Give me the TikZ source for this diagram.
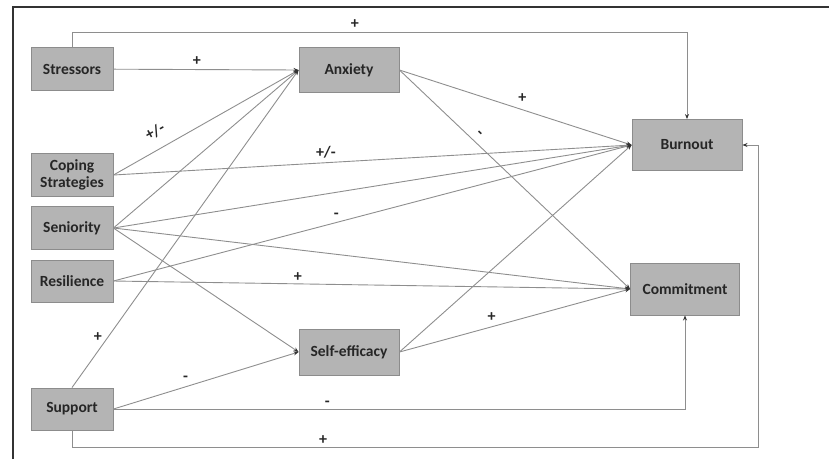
\documentclass[tikz,border=0pt]{standalone}
\usepackage{fontspec}
\setmainfont{Carlito}
\usetikzlibrary{arrows.meta, positioning}
\definecolor{relleno}{HTML}{B4B4B4}
\definecolor{borde}{HTML}{8C8C8C}
\definecolor{linea}{HTML}{8E8E8E}
\tikzset{
    bloque/.style={rectangle, fill=relleno, draw=borde, line width=0.9pt,
        font=\fontsize{15.5}{17}\selectfont\bfseries, text=black!85, align=center, inner sep=1pt},
    flecha/.style={draw=linea, line width=0.9pt,
        -{Stealth[length=5pt, width=4pt, color=black!80]}},
    signo/.style={font=\fontsize{16}{17}\selectfont\bfseries, text=black!85, inner sep=1pt},
    marco/.style={draw=black!80, line width=2.2pt}}

\begin{document}
\begin{tikzpicture}[x=1pt, y=-1pt]
    \useasboundingbox (0,0) rectangle (829,459);
    \draw[marco] (13,459) -- (13,7) -- (829,7);
    % Columna izquierda
    \node (stress) [bloque, minimum width=82pt, minimum height=43pt] at (72,69) {Stressors};
    \node (coping) [bloque, minimum width=82pt, minimum height=43pt] at (72,175) {Coping\\Strategies};
    \node (senior) [bloque, minimum width=82pt, minimum height=43pt] at (72,228) {Seniority};
    \node (resil) [bloque, minimum width=82pt, minimum height=42pt] at (72,281) {Resilience};
    \node (support) [bloque, minimum width=82pt, minimum height=42pt] at (72,409) {Support};
    % Columna central
    \node (anx) [bloque, minimum width=100pt, minimum height=45pt] at (349,70) {Anxiety};
    \node (selfef) [bloque, minimum width=100pt, minimum height=46pt] at (349,352) {Self-efficacy};
    % Columna derecha
    \node (burn) [bloque, minimum width=110pt, minimum height=51pt] at (687,145) {Burnout};
    \node (commit) [bloque, minimum width=109pt, minimum height=52pt] at (685,289) {Commitment};
    \coordinate (esq) at (758,447);

    % Hacia Anxiety
    \draw[flecha] (stress) -- node[signo, pos=0.45, above=3pt] {+} (anx.west);
    \draw[flecha] (coping.east) -- node[signo, pos=0.27, above=10pt, sloped] {+/-} (anx.west);
    \draw[flecha] (senior.east) -- (anx.west);
    \draw[flecha] (support.north) -- node[signo, pos=0.16, left=5pt] {+} (anx.west);
    % Hacia Burnout
    \draw[flecha] (stress.north) -- ++(0,-15) -| node[signo, pos=0.23, above=2pt] {+} (burn.north);
    \draw[flecha] (anx.east) -- node[signo, pos=0.53, above=6pt] {+} (burn.west);
    \draw[flecha] (coping.east) -- node[signo, pos=0.41, above=3pt] {+/-} (burn.west);
    \draw[flecha] (senior.east) -- (burn.west);
    \draw[flecha] (resil.east) -- node[signo, pos=0.43, above=3pt] {-} (burn.west);
    \draw[flecha] (selfef.east) -- (burn.west);
    \draw[flecha] (support.south) |- (esq) |- (burn.east);
    \path (support.south) |- node[signo, pos=0.683, above=1pt] {+} (esq);
    % Hacia Commitment
    \draw[flecha] (anx.east) -- node[signo, pos=0.32, above=4pt, sloped] {-} (commit.west);
    \draw[flecha] (senior.east) -- (commit.west);
    \draw[flecha] (resil.east) -- node[signo, pos=0.357, above=1pt] {+} (commit.west);
    \draw[flecha] (selfef.east) -- node[signo, pos=0.4, above=4pt] {+} (commit.west);
    \draw[flecha] (support.east) -| node[signo, pos=0.187, above=1pt] {-} (commit.south);
    % Hacia Self-efficacy
    \draw[flecha] (senior.east) -- (selfef.west);
    \draw[flecha] (support.east) -- node[signo, pos=0.39, above=4pt] {-} (selfef.west);
\end{tikzpicture}
\end{document}
